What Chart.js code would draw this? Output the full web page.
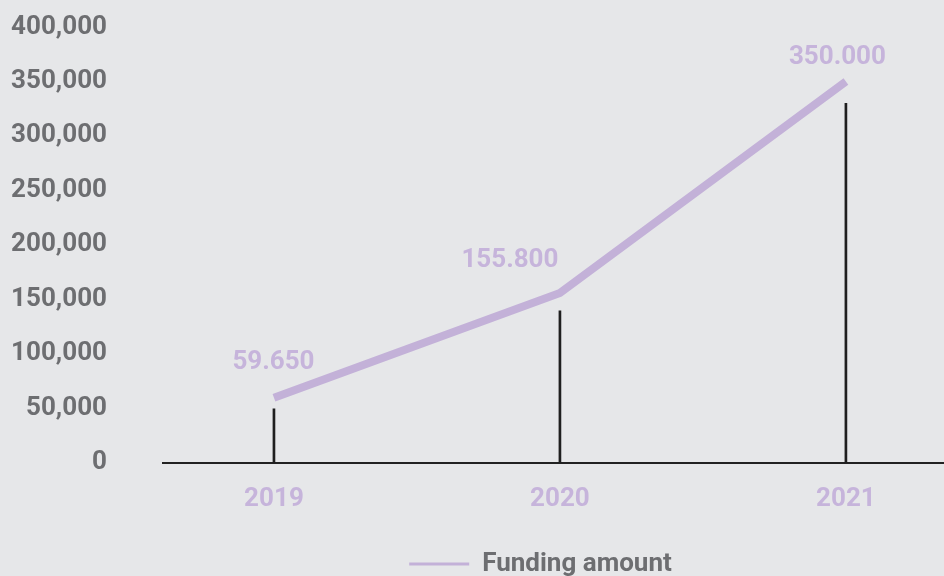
<!DOCTYPE html>
<html>
<head>
<meta charset="utf-8">
<script src="https://cdn.jsdelivr.net/npm/chart.js@4.4.1/dist/chart.umd.min.js"></script>
<style>
  html, body { margin: 0; padding: 0; background: #e6e7e9; }
  #wrap { width: 944px; height: 576px; position: relative; }
</style>
</head>
<body>
<div id="wrap"><canvas id="c"></canvas></div>
<script>
// ---- data ----
const categories = ['2019', '2020', '2021'];
const fundingAmount = [59650, 155800, 350000];
const fundingLabels = ['59.650', '155.800', '350.000'];
const stemTops = [49500, 139500, 330000];
const yTicks = [0, 50000, 100000, 150000, 200000, 250000, 300000, 350000, 400000];
const seriesName = 'Funding amount';

// ---- style ----
const PURPLE_LINE = '#c3b1d8';
const PURPLE_TEXT = '#c6b4db';
const GRAY = '#6d6e71';
const FONT = 'Roboto';
const FS = 26;
const labelOffsets = [[-0.5, -35], [-50, -33], [-8.5, -24]];

const xs = categories.map(c => parseInt(c, 10));

const dataLabelPlugin = {
  id: 'dataLabels',
  afterDatasetsDraw(chart) {
    const meta = chart.getDatasetMeta(1);
    const ctx = chart.ctx;
    ctx.save();
    ctx.font = 'bold ' + FS + 'px ' + FONT;
    ctx.fillStyle = PURPLE_TEXT;
    ctx.textAlign = 'center';
    ctx.textBaseline = 'middle';
    meta.data.forEach((pt, i) => {
      ctx.fillText(fundingLabels[i], pt.x + labelOffsets[i][0], pt.y + labelOffsets[i][1]);
    });
    ctx.restore();
  }
};

const bgPlugin = {
  id: 'bg',
  beforeDraw(chart) {
    const ctx = chart.ctx;
    ctx.save();
    ctx.fillStyle = '#e6e7e9';
    ctx.fillRect(0, 0, chart.width, chart.height);
    ctx.restore();
  }
};

const legendShift = {
  id: 'legendShift',
  afterLayout(chart) {
    const lg = chart.legend;
    const dx = -13, dy = 11;
    lg.left += dx; lg.right += dx;
    lg.top += dy; lg.bottom += dy;
  }
};

new Chart(document.getElementById('c'), {
  data: {
    datasets: [
      {
        type: 'bar',
        label: 'stems',
        data: xs.map((x, i) => ({ x: x, y: stemTops[i] })),
        backgroundColor: '#1f1f1f',
        barThickness: 2,
        order: 2
      },
      {
        type: 'line',
        label: seriesName,
        data: xs.map((x, i) => ({ x: x, y: fundingAmount[i] })),
        borderColor: PURPLE_LINE,
        backgroundColor: PURPLE_LINE,
        borderWidth: 8,
        pointRadius: 0,
        tension: 0,
        borderCapStyle: 'butt',
        borderJoinStyle: 'miter',
        order: 1
      }
    ]
  },
  options: {
    responsive: true,
    maintainAspectRatio: false,
    animation: false,
    layout: { padding: { left: 0, right: 0, top: 27, bottom: 0 } },
    scales: {
      x: {
        type: 'linear',
        offset: false,
        min: 2018.612,
        max: 2021.343,
        afterBuildTicks(scale) { scale.ticks = xs.map(v => ({ value: v })); },
        afterFit(scale) { scale.height -= 6; scale.paddingLeft = 0; scale.paddingRight = 0; },
        grid: { display: false, drawTicks: false },
        border: { display: true, color: '#222222', width: 2 },
        ticks: {
          padding: 21,
          color: PURPLE_TEXT,
          font: { family: FONT, size: FS, weight: 'bold' },
          callback: (v) => String(v)
        }
      },
      y: {
        min: 0,
        max: 400000,
        afterBuildTicks(scale) { scale.ticks = yTicks.map(v => ({ value: v })); },
        afterFit(scale) { scale.width = 163; scale.paddingTop = 0; scale.paddingBottom = 0; },
        grid: { display: false, drawTicks: false },
        border: { display: false },
        ticks: {
          padding: 56,
          color: GRAY,
          font: { family: FONT, size: FS, weight: 'bold' },
          callback: (v) => v.toLocaleString('en-US')
        }
      }
    },
    plugins: {
      tooltip: { enabled: false },
      legend: {
        position: 'bottom',
        fullSize: false,
        labels: {
          boxWidth: 60,
          boxHeight: 3,
          padding: 10,
          color: GRAY,
          font: { family: FONT, size: FS, weight: 'bold' },
          generateLabels: () => [{
            text: seriesName,
            fillStyle: PURPLE_LINE,
            strokeStyle: PURPLE_LINE,
            lineWidth: 0,
            hidden: false,
            datasetIndex: 1,
            fontColor: GRAY
          }]
        }
      }
    }
  },
  plugins: [bgPlugin, dataLabelPlugin, legendShift]
});
</script>
</body>
</html>
